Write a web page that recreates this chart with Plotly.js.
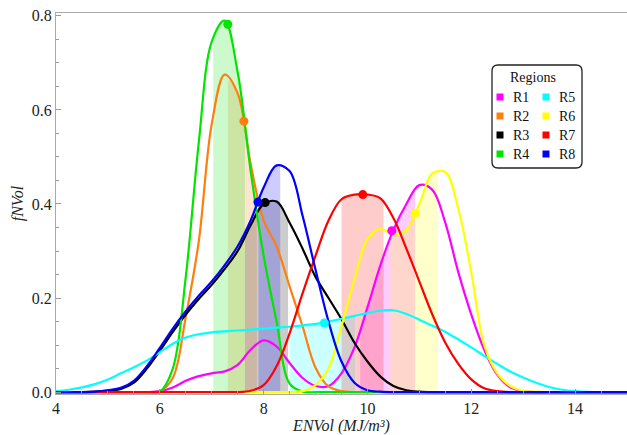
<!DOCTYPE html>
<html><head><meta charset="utf-8">
<script src="https://cdn.plot.ly/plotly-3.0.1.min.js"></script>
<style>html,body{margin:0;padding:0;background:#fff}#chart{width:627px;height:435px}</style>
</head><body><div id="chart"></div>
<script>
// ENVol grid (MJ/m3)
const envol = [4.0,4.25,4.5,4.75,5.0,5.25,5.5,5.75,6.0,6.25,6.5,6.75,7.0,7.25,7.5,7.75,8.0,8.25,8.5,8.75,9.0,9.25,9.5,9.75,10.0,10.25,10.5,10.75,11.0,11.25,11.5,11.75,12.0,12.25,12.5,12.75,13.0,13.25,13.5,13.75,14.0,14.25,14.5,14.75,15.0];
const regions = ["R1","R2","R3","R4","R5","R6","R7","R8"];
const R1 = [0,0,0,0,0,0,0,0,0.002,0.01,0.024,0.034,0.04,0.044,0.058,0.09,0.11,0.097,0.062,0.03,0.013,0.013,0.04,0.095,0.18,0.27,0.345,0.40,0.44,0.43,0.36,0.255,0.165,0.09,0.037,0.01,0.002,0,0,0,0,0,0,0,0];
const R2 = [0,0,0,0,0,0,0,0,0.002,0.03,0.16,0.32,0.57,0.675,0.635,0.485,0.365,0.31,0.225,0.14,0.052,0.012,0.002,0,0,0,0,0,0,0,0,0,0,0,0,0,0,0,0,0,0,0,0,0,0];
const R3 = [0,0,0,0.001,0.003,0.007,0.02,0.05,0.088,0.128,0.165,0.198,0.228,0.262,0.30,0.355,0.40,0.405,0.36,0.305,0.245,0.20,0.155,0.105,0.065,0.033,0.013,0.004,0.001,0,0,0,0,0,0,0,0,0,0,0,0,0,0,0,0];
const R4 = [0,0,0,0,0,0,0,0,0.001,0.05,0.245,0.53,0.745,0.79,0.68,0.47,0.29,0.15,0.018,0.001,0,0,0,0,0,0,0,0,0,0,0,0,0,0,0,0,0,0,0,0,0,0,0,0,0];
const R5 = [0.002,0.005,0.01,0.017,0.027,0.04,0.053,0.067,0.085,0.103,0.116,0.123,0.127,0.129,0.131,0.133,0.135,0.137,0.139,0.142,0.145,0.150,0.156,0.162,0.168,0.173,0.174,0.166,0.154,0.141,0.128,0.112,0.095,0.077,0.06,0.044,0.031,0.02,0.011,0.005,0.002,0.0005,0,0,0];
const R6 = [0,0,0,0,0,0,0,0,0,0,0,0,0,0,0,0,0,0,0,0.002,0.015,0.05,0.14,0.24,0.325,0.347,0.335,0.345,0.40,0.465,0.468,0.39,0.255,0.10,0.04,0.013,0.003,0.001,0,0,0,0,0,0,0];
const R7 = [0,0,0,0,0,0,0,0,0,0,0,0,0,0,0,0.003,0.015,0.055,0.125,0.21,0.29,0.365,0.41,0.42,0.42,0.412,0.37,0.305,0.235,0.165,0.105,0.06,0.027,0.008,0.002,0,0,0,0,0,0,0,0,0,0];
const R8 = [0,0,0,0.001,0.004,0.009,0.024,0.055,0.094,0.135,0.172,0.205,0.235,0.27,0.31,0.365,0.435,0.482,0.47,0.375,0.26,0.15,0.065,0.02,0.004,0.001,0,0,0,0,0,0,0,0,0,0,0,0,0,0,0,0,0,0,0];
// marked points on each curve
const dotX = [10.47,7.62,8.03,7.31,9.17,10.92,9.91,7.89];
const dotY = [0.343,0.576,0.403,0.782,0.147,0.38,0.42,0.404];
// shaded ranges under each curve
const bandLo = [9.86,7.31,7.64,7.03,8.50,10.44,9.50,7.90];
const bandHi = [10.92,7.87,8.47,7.64,9.76,11.36,10.31,8.32];

const series = [R1,R2,R3,R4,R5,R6,R7,R8];
const colors = ["#ff00ff","#ff7f0e","#000000","#00e600","#00ffff","#ffff00","#ff0000","#0000ff"];
const fills = ["rgba(255,0,255,0.2)","rgba(255,127,14,0.2)","rgba(0,0,0,0.2)","rgba(0,230,0,0.2)","rgba(0,255,255,0.2)","rgba(255,255,0,0.2)","rgba(255,0,0,0.2)","rgba(0,0,255,0.2)"];

function interp(ys, x){
  for(let i=0;i<envol.length-1;i++){
    if(x>=envol[i] && x<=envol[i+1]){
      const t=(x-envol[i])/(envol[i+1]-envol[i]);
      return ys[i]+(ys[i+1]-ys[i])*t;
    }
  }
  return 0;
}
const traces=[];
series.forEach((ys,k)=>{
  const bx=[bandLo[k]], by=[interp(ys,bandLo[k])];
  envol.forEach((x,i)=>{ if(x>bandLo[k] && x<bandHi[k]){bx.push(x);by.push(ys[i]);} });
  bx.push(bandHi[k]); by.push(interp(ys,bandHi[k]));
  traces.push({x:bx,y:by,type:'scatter',mode:'lines',fill:'tozeroy',fillcolor:fills[k],line:{width:0,shape:'spline',smoothing:1},hoverinfo:'skip',showlegend:false});
});
series.forEach((ys,k)=>{
  traces.push({x:envol,y:ys,type:'scatter',mode:'lines',name:regions[k],line:{color:colors[k],width:2.2,shape:'spline',smoothing:1},showlegend:false});
});
series.forEach((ys,k)=>{
  traces.push({x:[dotX[k]],y:[dotY[k]],type:'scatter',mode:'markers',marker:{color:colors[k],size:9},showlegend:false});
});

// legend drawn manually
const L=56,R=627,T=13,B=394;
const px=x=>(x-L)/(R-L), py=y=>(B-y)/(B-T);
const shapes=[];
const annotations=[];
function rr(x0,y0,x1,y1,r){
  return `M${px(x0+r)},${py(y0)} L${px(x1-r)},${py(y0)} Q${px(x1)},${py(y0)} ${px(x1)},${py(y0+r)} L${px(x1)},${py(y1-r)} Q${px(x1)},${py(y1)} ${px(x1-r)},${py(y1)} L${px(x0+r)},${py(y1)} Q${px(x0)},${py(y1)} ${px(x0)},${py(y1-r)} L${px(x0)},${py(y0+r)} Q${px(x0)},${py(y0)} ${px(x0+r)},${py(y0)} Z`;
}
shapes.push({type:'path',xref:'paper',yref:'paper',path:rr(492,65,582,168,6),line:{color:'#222',width:1.3},fillcolor:'#fff',layer:'above'});
annotations.push({xref:'paper',yref:'paper',x:px(533),y:py(77),text:'Regions',showarrow:false,font:{family:'Liberation Serif',size:14,color:'#111'},xanchor:'center',yanchor:'middle'});
const rowY=[97,116,135,154], colX=[500,546];
regions.forEach((r,k)=>{
  const c=Math.floor(k/4), j=k%4;
  const cx=colX[c], cy=rowY[j];
  shapes.push({type:'rect',xref:'paper',yref:'paper',x0:px(cx-3.5),x1:px(cx+3.5),y0:py(cy+3.5),y1:py(cy-3.5),fillcolor:colors[k],line:{width:0},layer:'above'});
  annotations.push({xref:'paper',yref:'paper',x:px(cx+11),y:py(cy),text:r,showarrow:false,font:{family:'Liberation Serif',size:14,color:'#111'},xanchor:'left',yanchor:'middle'});
});

const layout={
  width:627,height:435,margin:{l:L,r:627-R,t:T,b:435-B},
  paper_bgcolor:'#fff',plot_bgcolor:'#fff',showlegend:false,
  font:{family:'Liberation Serif',size:16,color:'#222'},
  xaxis:{range:[4,15],dtick:2,tick0:4,showgrid:false,zeroline:false,showline:true,linecolor:'#aaa',linewidth:1,mirror:true,
    ticks:'inside',ticklen:5,tickcolor:'#999',tickfont:{family:'Liberation Serif',size:16,color:'#222'},
    minor:{ticks:'inside',dtick:0.5,ticklen:3,tickcolor:'#999'},
    title:{text:'<i>ENVol (MJ/m³)</i>',font:{family:'Liberation Serif',size:16,color:'#222'},standoff:0}},
  yaxis:{range:[-0.004,0.806],dtick:0.2,tick0:0,tickformat:'.1f',showgrid:false,zeroline:false,showline:true,linecolor:'#aaa',linewidth:1,mirror:true,
    ticks:'inside',ticklen:5,tickcolor:'#999',tickfont:{family:'Liberation Serif',size:16,color:'#222'},
    minor:{ticks:'inside',dtick:0.05,ticklen:3,tickcolor:'#999'},
    title:{text:'<i>fNVol</i>',font:{family:'Liberation Serif',size:16,color:'#222'},standoff:4}},
  shapes:shapes,annotations:annotations
};
Plotly.newPlot('chart',traces,layout,{displayModeBar:false,staticPlot:true});
</script></body></html>
